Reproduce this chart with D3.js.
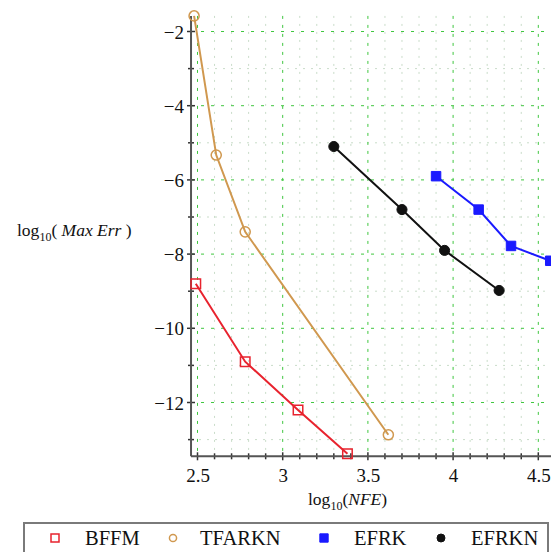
<!DOCTYPE html>
<html>
<head>
<meta charset="utf-8">
<script src="https://cdn.jsdelivr.net/npm/d3@7"></script>
<style>
  body { margin: 0; background: #fff; }
</style>
</head>
<body>
<div class="canvas"></div>
<script>
const bffmX = [2.49, 2.78, 3.09, 3.38];
const bffmY = [-8.8, -10.9, -12.2, -13.38];
const tfarknX = [2.48, 2.61, 2.78, 3.62];
const tfarknY = [-1.58, -5.33, -7.4, -12.87];
const efrkX = [3.9, 4.15, 4.34, 4.57];
const efrkY = [-5.9, -6.8, -7.78, -8.18];
const efrknX = [3.3, 3.7, 3.95, 4.27];
const efrknY = [-5.1, -6.8, -7.9, -8.98];

const xTicks = [2.5, 3, 3.5, 4, 4.5];
const yTicks = [-2, -4, -6, -8, -10, -12];
const seriesNames = ["BFFM", "TFARKN", "EFRK", "EFRKN"];

const dims = { width: 551, height: 552 };
const xExtent = [2.462, 4.63];
const yExtent = [-13.45, -1.58];
const serif = '"Liberation Serif"';

const svg = d3
    .select(".canvas")
    .append("svg")
    .attr("width", dims.width)
    .attr("height", dims.height);

const x = d3.scaleLinear().domain([2.5, 4.5]).range([197.5, 538.3]);
const y = d3.scaleLinear().domain([-2, -12]).range([31.5, 402.5]);

const plotLeft = x(xExtent[0]), plotRight = x(xExtent[1]);
const plotTop = y(yExtent[1]), plotBottom = y(yExtent[0]);

// minor grid
const grid = svg.append("g");
grid.selectAll(".vminor")
    .data(d3.range(25, 47).map((d) => d / 10).filter((d) => d % 0.5 !== 0))
    .enter().append("line")
    .attr("x1", (d) => x(d)).attr("x2", (d) => x(d))
    .attr("y1", plotTop).attr("y2", plotBottom)
    .attr("stroke", "#c9dcc9").attr("stroke-dasharray", "2,6");
grid.selectAll(".hminor")
    .data([-3, -5, -7, -9, -11, -13])
    .enter().append("line")
    .attr("x1", plotLeft).attr("x2", plotRight)
    .attr("y1", (d) => y(d)).attr("y2", (d) => y(d))
    .attr("stroke", "#c9dcc9").attr("stroke-dasharray", "2,6");

// major grid
grid.selectAll(".vmajor")
    .data(xTicks)
    .enter().append("line")
    .attr("x1", (d) => x(d)).attr("x2", (d) => x(d))
    .attr("y1", plotTop).attr("y2", plotBottom)
    .attr("stroke", "#3fc63f").attr("stroke-dasharray", "3,6");
grid.selectAll(".hmajor")
    .data(yTicks)
    .enter().append("line")
    .attr("x1", plotLeft).attr("x2", plotRight)
    .attr("y1", (d) => y(d)).attr("y2", (d) => y(d))
    .attr("stroke", "#3fc63f").attr("stroke-dasharray", "3,7");

// axes
const xAxis = d3.axisBottom(x).tickValues(xTicks).tickSize(0).tickFormat((d) => d);
const xAxisG = svg.append("g").attr("transform", `translate(0,${plotBottom})`).call(xAxis);
xAxisG.select(".domain").remove();
xAxisG.selectAll("text").attr("dy", 0).attr("y", 26)
    .style("font-family", serif).style("font-size", "19px").attr("fill", "#111");

const yAxis = d3.axisLeft(y).tickValues(yTicks).tickSize(0)
    .tickFormat((d) => "\u2212" + Math.abs(d));
const yAxisG = svg.append("g").attr("transform", `translate(${plotLeft},0)`).call(yAxis);
yAxisG.select(".domain").remove();
yAxisG.selectAll("text").attr("x", -7).attr("dy", "0.35em")
    .style("font-family", serif).style("font-size", "19px").attr("fill", "#111");

const tickG = svg.append("g").attr("stroke", "#333").attr("stroke-width", 1.5);
tickG.selectAll(".xt")
    .data(d3.range(25, 47).map((d) => d / 10))
    .enter().append("line")
    .attr("x1", (d) => x(d)).attr("x2", (d) => x(d))
    .attr("y1", (d) => plotBottom - (Math.abs(d * 2 - Math.round(d * 2)) < 1e-6 ? 4 : 3))
    .attr("y2", (d) => plotBottom + (Math.abs(d * 2 - Math.round(d * 2)) < 1e-6 ? 4 : 3));
tickG.selectAll(".yt")
    .data(d3.range(-13, -1))
    .enter().append("line")
    .attr("y1", (d) => y(d)).attr("y2", (d) => y(d))
    .attr("x1", (d) => plotLeft - (d % 2 === 0 ? 4 : 3))
    .attr("x2", (d) => plotLeft + (d % 2 === 0 ? 4 : 3));

svg.append("line").attr("x1", plotLeft).attr("x2", plotLeft).attr("y1", plotTop).attr("y2", plotBottom)
    .attr("stroke", "#555").attr("stroke-width", 2);
svg.append("line").attr("x1", plotLeft).attr("x2", plotRight).attr("y1", plotBottom).attr("y2", plotBottom)
    .attr("stroke", "#555").attr("stroke-width", 2);

// axis titles
function logTitle(tx, ty, label, padded) {
    const t = svg.append("text").attr("x", tx).attr("y", ty)
        .style("font-family", serif).style("font-size", "17.5px").attr("fill", "#111");
    t.append("tspan").text("log");
    t.append("tspan").attr("dy", 5).style("font-size", "12px").text("10");
    t.append("tspan").attr("dy", -5).text(padded ? "( " : "(");
    t.append("tspan").style("font-style", "italic").text(label);
    t.append("tspan").text(padded ? " )" : ")");
}
logTitle(308, 505, "NFE", false);
logTitle(17, 236, "Max Err", true);

// series
const series = [
    { name: "BFFM", xs: bffmX, ys: bffmY, color: "#e8232e", shape: "square", fill: "none" },
    { name: "TFARKN", xs: tfarknX, ys: tfarknY, color: "#d0984f", shape: "circle", fill: "none" },
    { name: "EFRK", xs: efrkX, ys: efrkY, color: "#1a1aff", shape: "square", fill: "#1a1aff" },
    { name: "EFRKN", xs: efrknX, ys: efrknY, color: "#111", shape: "circle", fill: "#111" },
];

const line = d3.line().x((d) => x(d[0])).y((d) => y(d[1]));
const symSquare = d3.symbol().type(d3.symbolSquare).size(90);
const symCircle = d3.symbol().type(d3.symbolCircle).size(80);

const chart = svg.append("g");
series.forEach((s) => {
    const pts = s.xs.map((v, i) => [v, s.ys[i]]);
    chart.append("path")
        .attr("d", line(pts))
        .attr("fill", "none")
        .attr("stroke", s.color)
        .attr("stroke-width", 2);
    chart.selectAll(".m-" + s.name)
        .data(pts)
        .enter().append("path")
        .attr("transform", (d) => `translate(${x(d[0])},${y(d[1])})`)
        .attr("d", s.shape === "square" ? symSquare : symCircle)
        .attr("fill", s.fill === "none" ? "none" : s.fill)
        .attr("stroke", s.color)
        .attr("stroke-width", s.fill === "none" ? 1.5 : 1);
});

// legend
const legendGroup = svg.append("g");
legendGroup.append("rect")
    .attr("x", 24).attr("y", 523).attr("width", 524).attr("height", 40)
    .attr("fill", "#fff").attr("stroke", "#7a7a7a").attr("stroke-width", 2);
const legendPos = [
    { sym: 55, text: 85 },
    { sym: 173, text: 200 },
    { sym: 324, text: 354 },
    { sym: 441, text: 471 },
];
series.forEach((s, i) => {
    const small = s.shape === "square"
        ? d3.symbol().type(d3.symbolSquare).size(s.fill === "none" ? 64 : 70)
        : d3.symbol().type(d3.symbolCircle).size(s.fill === "none" ? 40 : 50);
    legendGroup.append("path")
        .attr("transform", `translate(${legendPos[i].sym},538)`)
        .attr("d", small)
        .attr("fill", s.fill)
        .attr("stroke", s.color)
        .attr("stroke-width", s.fill === "none" ? 1.5 : 1);
    legendGroup.append("text")
        .attr("x", legendPos[i].text).attr("y", 545)
        .style("font-family", serif).style("font-size", "20.5px")
        .attr("fill", "#111")
        .text(seriesNames[i]);
});
</script>
</body>
</html>
